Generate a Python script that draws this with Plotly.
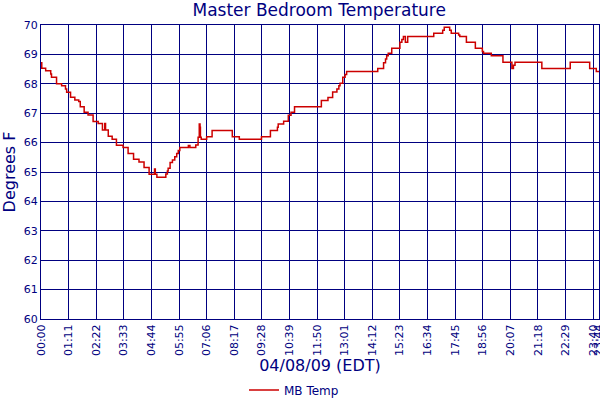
import pandas as pd
import plotly.graph_objects as go

# Step-change readings (time of change, temperature °F)
times = ["00:00", "00:02", "00:12", "00:25", "00:27", "00:40", "00:53", "01:03", "01:06", "01:16",
         "01:27", "01:37", "01:41", "01:51", "02:01", "02:14", "02:27", "02:38", "02:44", "02:46",
         "02:53", "03:03", "03:14", "03:31", "03:44", "03:58", "04:12", "04:25", "04:38", "04:52",
         "04:54", "04:58", "05:21", "05:25", "05:27", "05:32", "05:38", "05:44", "05:49", "05:53",
         "05:57", "06:19", "06:23", "06:38", "06:44", "06:47", "06:49", "06:50", "06:52", "07:06",
         "07:20", "08:12", "08:30", "09:27", "09:50", "10:08", "10:10", "10:24", "10:36", "10:43",
         "10:52", "12:01", "12:18", "12:30", "12:41", "12:46", "12:49", "12:56", "13:02", "13:06",
         "14:26", "14:41", "14:46", "14:49", "14:53", "15:02", "15:23", "15:28", "15:32", "15:37",
         "15:43", "16:50", "17:13", "17:17", "17:31", "17:35", "17:54", "17:57", "18:14", "18:37",
         "18:55", "18:58", "19:18", "19:48", "20:11", "20:15", "20:19", "21:28", "22:41", "23:31",
         "23:48", "23:55"]
temps = [68.72, 68.53, 68.44, 68.33, 68.22, 68.00, 67.93, 67.82, 67.71, 67.54,
         67.45, 67.40, 67.22, 67.03, 66.94, 66.72, 66.65, 66.43, 66.65, 66.43,
         66.22, 66.11, 65.91, 65.83, 65.63, 65.43, 65.34, 65.15, 64.92, 65.10,
         64.92, 64.82, 64.93, 65.03, 65.13, 65.32, 65.41, 65.52, 65.63, 65.73,
         65.83, 65.90, 65.83, 65.92, 66.18, 66.63, 66.52, 66.18, 66.11, 66.20,
         66.41, 66.20, 66.11, 66.20, 66.41, 66.52, 66.63, 66.73, 66.93, 67.03,
         67.22, 67.43, 67.53, 67.72, 67.82, 67.93, 68.02, 68.22, 68.32, 68.42,
         68.52, 68.72, 68.84, 68.95, 69.04, 69.21, 69.41, 69.51, 69.61, 69.41,
         69.61, 69.72, 69.82, 69.92, 69.82, 69.72, 69.66, 69.61, 69.41, 69.21,
         69.10, 69.04, 68.95, 68.73, 68.52, 68.63, 68.73, 68.52, 68.73, 68.52,
         68.42, 68.42]

tick_labels = ["00:00", "01:11", "02:22", "03:33", "04:44", "05:55", "07:06", "08:17", "09:28",
               "10:39", "11:50", "13:01", "14:12", "15:23", "16:34", "17:45", "18:56", "20:07",
               "21:18", "22:29", "23:40", "23:44"]
y_ticks = [60, 61, 62, 63, 64, 65, 66, 67, 68, 69, 70]

DAY = "2009-04-08 "
x_vals = pd.to_datetime([DAY + t for t in times])
x_last_tick = pd.Timestamp(DAY + "23:54:30")
x_end = pd.Timestamp(DAY + "23:55:00")
tick_vals = list(pd.to_datetime([DAY + t for t in tick_labels[:-1]])) + [x_last_tick]

NAVY = "#000080"
FONT = "DejaVu Sans"

fig = go.Figure()
fig.add_trace(go.Scatter(
    x=x_vals, y=temps, mode="lines", name="MB Temp",
    line=dict(color="#CC0000", width=1.5, shape="hv"),
))

fig.update_layout(
    width=600, height=400,
    margin=dict(l=41, r=1, t=25, b=81),
    paper_bgcolor="white", plot_bgcolor="white",
    font=dict(family=FONT, color=NAVY),
    title=dict(text="Master Bedroom Temperature", x=0.532, xanchor="center",
               y=0.975, yanchor="middle", yref="container",
               font=dict(size=17, color=NAVY, family=FONT)),
    showlegend=True,
    legend=dict(orientation="h", x=0.49, xanchor="center", xref="container",
                y=0.025, yanchor="middle", yref="container",
                font=dict(size=12, color=NAVY), bgcolor="rgba(0,0,0,0)"),
    xaxis=dict(
        type="date", range=[x_vals[0], x_end],
        tickvals=tick_vals, ticktext=tick_labels, tickangle=-90,
        tickfont=dict(size=11, color=NAVY), ticks="", ticklabeloverflow="allow",
        showgrid=True, gridcolor=NAVY, gridwidth=1,
        showline=True, linecolor=NAVY, linewidth=1, mirror=True,
        zeroline=False, automargin=False,
        title=dict(text="04/08/09 (EDT)", font=dict(size=16, color=NAVY), standoff=6),
    ),
    yaxis=dict(
        range=[60, 70], tickvals=y_ticks,
        tickfont=dict(size=11, color=NAVY), ticks="",
        showgrid=True, gridcolor=NAVY, gridwidth=1,
        showline=True, linecolor=NAVY, linewidth=1, mirror=True,
        zeroline=False, automargin=False,
        title=dict(text="Degrees F", font=dict(size=16, color=NAVY), standoff=4),
    ),
)

fig.write_html("out.html", config={"displayModeBar": False},
               post_script="document.body.style.margin='0';")
